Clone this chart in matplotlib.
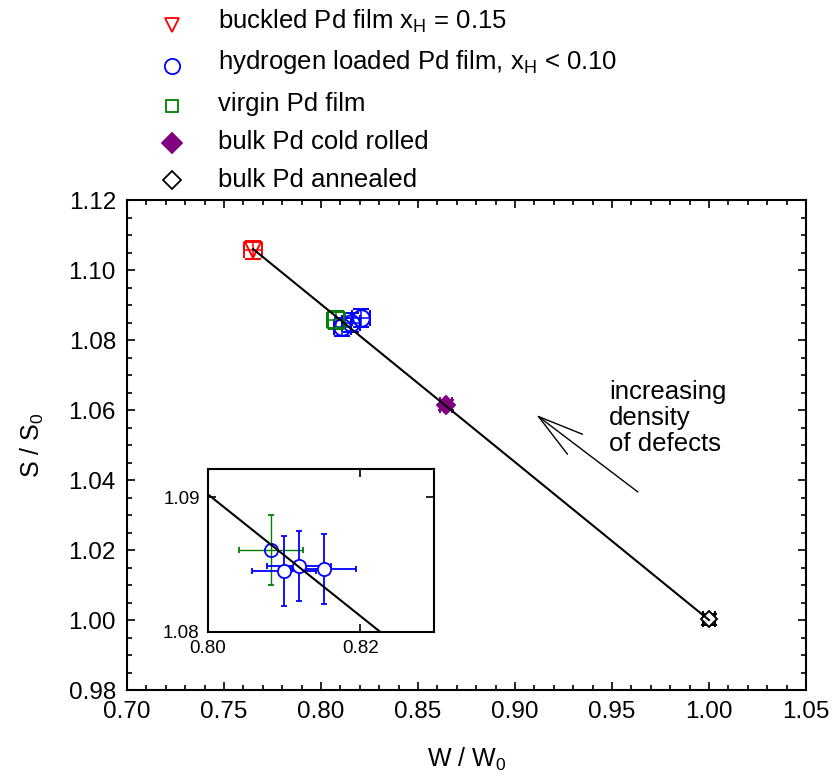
import matplotlib
matplotlib.use("Agg")
import matplotlib.pyplot as plt
from matplotlib.lines import Line2D
from matplotlib.ticker import MultipleLocator, FormatStrFormatter

plt.rcParams['font.family'] = ['Liberation Sans', 'DejaVu Sans']
plt.rcParams['mathtext.fontset'] = 'custom'
plt.rcParams['mathtext.rm'] = 'Liberation Sans'
plt.rcParams['mathtext.it'] = 'Liberation Sans'

# data
buckled_x, buckled_y = [0.765], [1.1058]
virgin_x, virgin_y = [0.8077], [1.0857]
hydro_x = [0.8110, 0.8155, 0.8205]
hydro_y = [1.0838, 1.0850, 1.0862]
cold_x, cold_y = [0.8643], [1.0614]
anneal_x, anneal_y = [1.000], [1.0002]
err_x, err_y = 0.0045, 0.0026

# fit line (buckled -> annealed)
line_x = [0.765, 1.000]
line_y = [1.106, 1.000]

# inset points
inset_virgin_x, inset_virgin_y = [0.8083], [1.0861]
inset_hydro_x = [0.8100, 0.8119, 0.8153]
inset_hydro_y = [1.0845, 1.0849, 1.0847]
inset_err_x, inset_err_y = 0.0042, 0.0026

fig = plt.figure(figsize=(8.35, 7.78), dpi=100)
ax = fig.add_axes([0.1521, 0.1131, 0.8132, 0.6298])

eb = dict(capsize=5.5, elinewidth=1.1, capthick=1.2, markeredgewidth=1.4, ls='none')
ax.errorbar(hydro_x, hydro_y, xerr=err_x, yerr=err_y, fmt='o', color='#0000ff',
            mfc='none', ms=12, **eb)
ax.errorbar(virgin_x, virgin_y, xerr=err_x, yerr=err_y, fmt='s', color='#008000',
            mfc='none', ms=12, **eb)
ax.errorbar(buckled_x, buckled_y, xerr=err_x, yerr=err_y, fmt='v', color='#ff0000',
            mfc='none', ms=11.5, **eb)
ax.errorbar(cold_x, cold_y, xerr=0.003, yerr=0.0015, fmt='D', color='#800080',
            mfc='#800080', ms=9.5, **eb)
ax.errorbar(anneal_x, anneal_y, xerr=0.003, yerr=0.0015, fmt='D', color='black',
            mfc='white', ms=8.5, **eb)
ax.plot(line_x, line_y, color='black', lw=1.5, zorder=5)

ax.set_xlim(0.70, 1.05)
ax.set_ylim(0.98, 1.12)
ax.xaxis.set_major_locator(MultipleLocator(0.05))
ax.xaxis.set_minor_locator(MultipleLocator(0.01))
ax.yaxis.set_major_locator(MultipleLocator(0.02))
ax.yaxis.set_minor_locator(MultipleLocator(0.005))
ax.xaxis.set_major_formatter(FormatStrFormatter('%.2f'))
ax.yaxis.set_major_formatter(FormatStrFormatter('%.2f'))
ax.tick_params(which='both', direction='in', top=True, right=True, width=1.2)
ax.tick_params(which='major', length=6, labelsize=17.5, pad=8)
ax.tick_params(which='minor', length=3.5)
for s in ax.spines.values():
    s.set_linewidth(1.5)
ax.set_xlabel('W / W$_0$', fontsize=18, labelpad=16)
ax.set_ylabel('S / S$_0$', fontsize=18, labelpad=16)

# arrow and note
ax.annotate('', xy=(0.911, 1.0586), xytext=(0.9633, 1.0366),
            arrowprops=dict(arrowstyle='->,head_length=3.3,head_width=0.9',
                            lw=1.0, color='black', mutation_scale=10,
                            shrinkA=0, shrinkB=0))
ax.text(0.9485, 1.0577, 'increasing\ndensity\nof defects', fontsize=18.5,
        ha='left', va='center', linespacing=1.1)

# inset
ins = fig.add_axes([0.2491, 0.1877, 0.2707, 0.2095])
ins.errorbar(inset_virgin_x, inset_virgin_y, xerr=inset_err_x, yerr=inset_err_y,
             fmt='o', color='#008000', mec='#0000ff', mfc='none', ms=9.5,
             capsize=2.5, elinewidth=1.0, capthick=1.0, markeredgewidth=1.3)
ins.errorbar(inset_hydro_x, inset_hydro_y, xerr=inset_err_x, yerr=inset_err_y,
             fmt='o', color='#0000ff', mfc='white', ms=9.5,
             capsize=2.5, elinewidth=1.3, capthick=1.3, markeredgewidth=1.3)
ins.plot(line_x, line_y, color='black', lw=1.5, zorder=5)
ins.set_xlim(0.80, 0.8297)
ins.set_ylim(1.08, 1.0921)
ins.xaxis.set_major_locator(MultipleLocator(0.02))
ins.yaxis.set_major_locator(MultipleLocator(0.01))
ins.xaxis.set_major_formatter(FormatStrFormatter('%.2f'))
ins.yaxis.set_major_formatter(FormatStrFormatter('%.2f'))
ins.tick_params(direction='in', top=True, right=True, length=6, width=1.2,
                labelsize=13.5, pad=6)
for s in ins.spines.values():
    s.set_linewidth(1.5)

# legend drawn by hand
legend_items = [
    ('v', '#ff0000', 'none', 10, 'buckled Pd film x$_\\mathregular{H}$ = 0.15'),
    ('o', '#0000ff', 'none', 11, 'hydrogen loaded Pd film, x$_\\mathregular{H}$ < 0.10'),
    ('s', '#008000', 'none', 9, 'virgin Pd film'),
    ('D', '#800080', '#800080', 10, 'bulk Pd cold rolled'),
    ('D', 'black', 'none', 9, 'bulk Pd annealed'),
]
row_y = [25, 66, 106, 143, 180]
text_y = [21, 62, 104, 142, 180]
for (m, c, fc, ms, label), yp, yt in zip(legend_items, row_y, text_y):
    fig.add_artist(Line2D([172 / 835], [1 - yp / 778], marker=m, color=c, mfc=fc,
                          ms=ms, mew=1.3, ls='none', transform=fig.transFigure))
    fig.text(218 / 835, 1 - yt / 778, label, fontsize=18.5, ha='left', va='center')

fig.savefig('out.png', dpi=100)
